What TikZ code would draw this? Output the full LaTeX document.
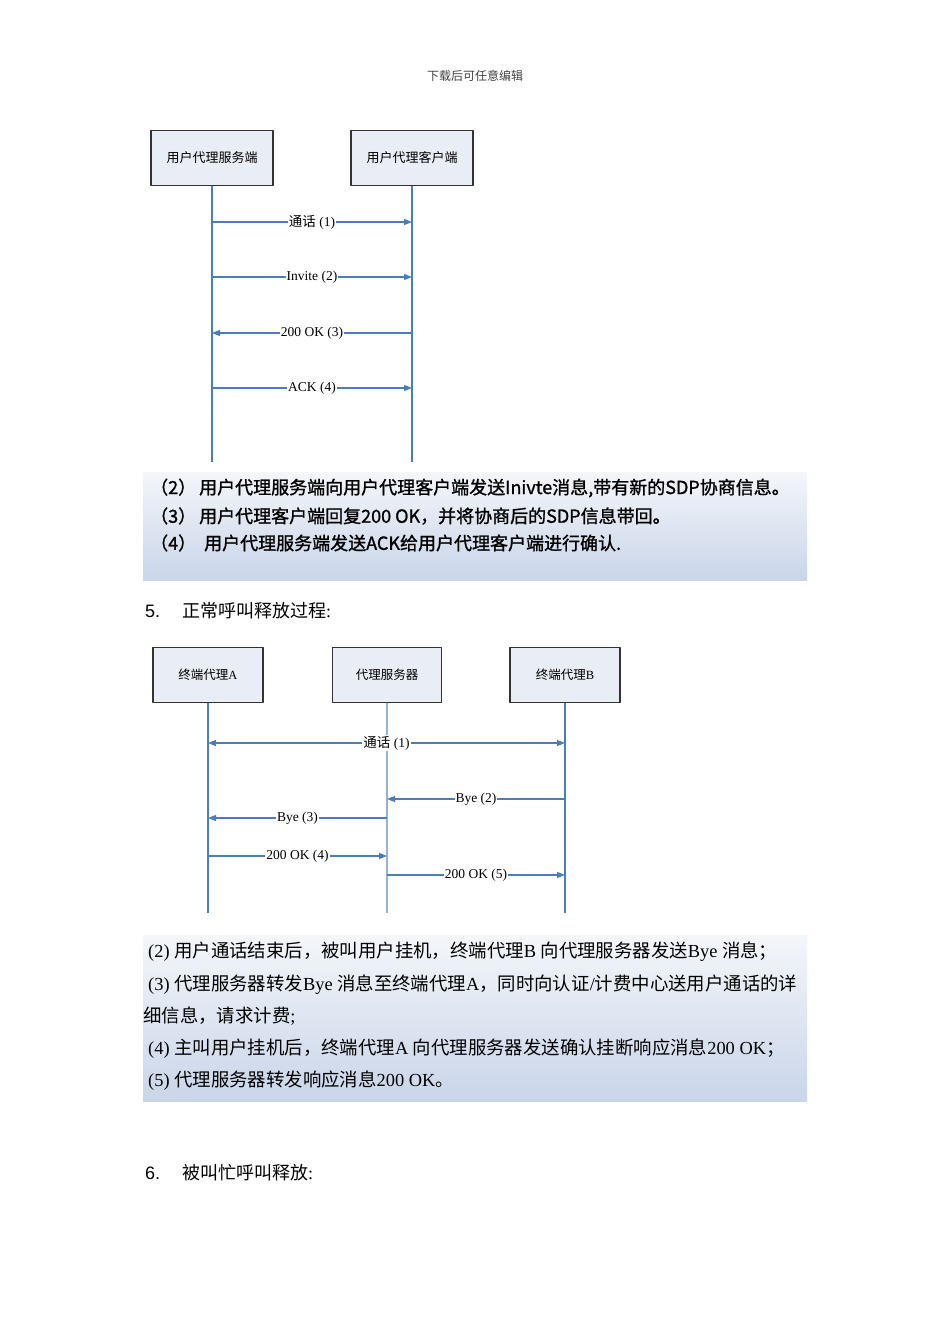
\documentclass[tikz,border=0pt]{standalone}
\usepackage{fontspec}
\setmainfont{Liberation Serif}
\newfontfamily\cjk{Noto Sans CJK SC}
\newfontfamily\cjkb[FakeBold=1.2]{Noto Sans CJK SC}
\newfontfamily\numfont{Liberation Sans}
\usetikzlibrary{arrows.meta,positioning,calc}

\definecolor{lifeblue}{HTML}{4A7EBB}
\definecolor{boxfill}{HTML}{E9EDF5}
\definecolor{panelTop}{HTML}{F4F6FA}
\definecolor{panelBot}{HTML}{C9D5E9}
\newcommand{\zh}[1]{{\cjk #1}}

\begin{document}
\begin{tikzpicture}[x=1pt, y=-1pt, line join=round, >={Triangle[length=8pt,width=6pt]},
    actor/.style={draw=black!80, line width=1.1pt, fill=boxfill, minimum height=55pt, inner sep=0pt},
    life/.style={draw=lifeblue, line width=1.1pt},
    msg/.style={draw=lifeblue, line width=1.1pt},
    lbl/.style={fill=white, inner sep=1pt, font=\fontsize{13.5}{15}\selectfont},
    note/.style={anchor=west, inner sep=0pt}]
  \useasboundingbox (0,0) rectangle (950,1344);
  % page header
  \node[text=black!75, font=\fontsize{12}{14}\selectfont] (hdr) at (475,76) {\zh{下载后可任意编辑}};

  % ---- first sequence
  \node[actor, minimum width=122pt, font=\fontsize{13}{15}\selectfont] (srv) at (212,158) {\zh{用户代理服务端}};
  \node[actor, minimum width=122pt, font=\fontsize{13}{15}\selectfont] (cli) at (412,158) {\zh{用户代理客户端}};
  \coordinate (srvEnd) at (212,462);
  \coordinate (cliEnd) at (412,462);
  \draw[life] (srv.south) -- (srvEnd);
  \draw[life] (cli.south) -- (cliEnd);
  \draw[msg,->] (srv |- 0,222) -- node[lbl]{\zh{通话} (1)} (cli |- 0,222);
  \draw[msg,->] (srv |- 0,277) -- node[lbl]{Invite (2)} (cli |- 0,277);
  \draw[msg,<-] (srv |- 0,333) -- node[lbl]{200 OK (3)} (cli |- 0,333);
  \draw[msg,->] (srv |- 0,388) -- node[lbl]{ACK (4)} (cli |- 0,388);

  \shade[top color=panelTop, bottom color=panelBot] (143,472) rectangle (807,580);
  \begin{scope}[font=\cjkb\fontsize{18}{20}\selectfont]
    \node[note] (p1a) at (150,488) {（2）\,用户代理服务端向用户代理客户端发送Inivte消息,带有新的SDP协商信息。};
    \node[note] (p1b) at (150,516) {（3）\,用户代理客户端回复200 OK，并将协商后的SDP信息带回。};
    \node[note] (p1c) at (150,543) {（4）\;\,用户代理服务端发送ACK给用户代理客户端进行确认.};
  \end{scope}

  \node[note, font=\fontsize{18}{20}\selectfont] (sec5) at (145,611) {{\numfont 5.}\hspace{22pt}\zh{正常呼叫释放过程}:};

  % ---- second sequence
  \node[actor, minimum width=110pt, font=\fontsize{12.5}{14}\selectfont] (tA) at (208,675) {\zh{终端代理}A};
  \node[actor, minimum width=109pt, font=\fontsize{12.5}{14}\selectfont] (prx) at (387,675) {\zh{代理服务器}};
  \node[actor, minimum width=110pt, font=\fontsize{12.5}{14}\selectfont] (tB) at (565,675) {\zh{终端代理}B};
  \coordinate (tAEnd) at (208,913);
  \coordinate (prxEnd) at (387,913);
  \coordinate (tBEnd) at (565,913);
  \draw[life] (tA.south) -- (tAEnd);
  \draw[life, draw=lifeblue!60] (prx.south) -- (prxEnd);
  \draw[life] (tB.south) -- (tBEnd);
  \draw[msg,<->] (tA |- 0,743) -- node[lbl]{\zh{通话} (1)} (tB |- 0,743);
  \draw[msg,<-] (prx |- 0,799) -- node[lbl]{Bye (2)} (tB |- 0,799);
  \draw[msg,<-] (tA |- 0,818) -- node[lbl]{Bye (3)} (prx |- 0,818);
  \draw[msg,->] (tA |- 0,856) -- node[lbl]{200 OK (4)} (prx |- 0,856);
  \draw[msg,->] (prx |- 0,875) -- node[lbl]{200 OK (5)} (tB |- 0,875);

  \shade[top color=panelTop, bottom color=panelBot] (143,935) rectangle (807,1101);
  \begin{scope}[font=\fontsize{18.4}{20}\selectfont]
    \node[note] (p2a) at (148,952) {(2) \zh{用户通话结束后，被叫用户挂机，终端代理}B \zh{向代理服务器发送}Bye \zh{消息；}};
    \node[note] (p2b) at (148,985) {(3) \zh{代理服务器转发}Bye \zh{消息至终端代理}A\zh{，同时向认证}/\zh{计费中心送用户通话的详}};
    \node[note] (p2c) at (143,1016) {\zh{细信息，请求计费};};
    \node[note] (p2d) at (148,1049) {(4) \zh{主叫用户挂机后，终端代理}A \zh{向代理服务器发送确认挂断响应消息}200 OK\zh{；}};
    \node[note] (p2e) at (148,1081) {(5) \zh{代理服务器转发响应消息}200 OK\zh{。}};
  \end{scope}

  \node[note, font=\fontsize{18}{20}\selectfont] (sec6) at (145,1173) {{\numfont 6.}\hspace{22pt}\zh{被叫忙呼叫释放}:};
\end{tikzpicture}
\end{document}
